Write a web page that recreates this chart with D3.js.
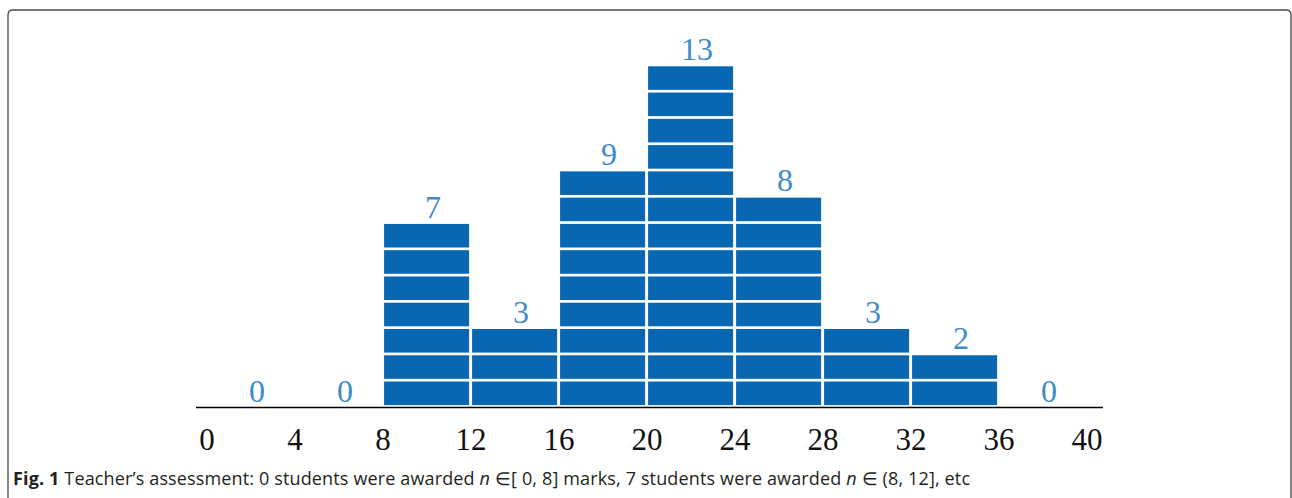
<!DOCTYPE html>
<html><head><meta charset="utf-8">
<script src="https://cdn.jsdelivr.net/npm/d3@7"></script>
<style>html,body{margin:0;padding:0;background:#fff;}svg{display:block;}</style>
</head><body>
<svg id="chart" width="1292" height="498"></svg>
<script>
const binStarts = [0, 4, 8, 12, 16, 20, 24, 28, 32, 36];
const binWidth = 4;
const counts = [0, 0, 7, 3, 9, 13, 8, 3, 2, 0];
const tickValues = [0, 4, 8, 12, 16, 20, 24, 28, 32, 36, 40];

const svg = d3.select("#chart");
const x = d3.scaleLinear().domain([0, 40]).range([206.5, 1086.5]);
const y = d3.scaleLinear().domain([0, 13]).range([406.5, 65]);

// frame
svg.append("path")
  .attr("d", "M8,520 L8,15 Q8,10 13,10 L1286,10 Q1291,10 1291,15 L1291,520")
  .attr("fill", "none").attr("stroke", "#4a4a4a").attr("stroke-width", 1.3);

// blocks
const blocks = [];
binStarts.forEach((s, i) => { for (let k = 0; k < counts[i]; k++) blocks.push({s, k}); });
svg.append("g").selectAll("rect").data(blocks).join("rect")
  .attr("x", d => x(d.s) + 1.6)
  .attr("width", d => x(d.s + binWidth) - x(d.s) - 3)
  .attr("y", d => y(d.k + 1) + 1.3)
  .attr("height", d => y(d.k) - y(d.k + 1) - 2.7)
  .attr("fill", "#0767b3");

// baseline
svg.append("line").attr("x1", 196).attr("x2", 1103).attr("y1", 407.5).attr("y2", 407.5)
  .attr("stroke", "#000").attr("stroke-width", 1.6);

// count labels
svg.append("g").selectAll("text").data(binStarts).join("text")
  .attr("x", (d) => x(d + binWidth / 2) + 6.5)
  .attr("y", (d, i) => y(counts[i]) - 5)
  .attr("text-anchor", "middle")
  .attr("font-family", "'Liberation Serif', serif")
  .attr("font-size", 32)
  .attr("fill", "#3d8bcb")
  .text((d, i) => counts[i]);

// x axis tick labels
const axis = d3.axisBottom(x).tickValues(tickValues).tickSize(0).tickPadding(0);
const ag = svg.append("g").attr("transform", "translate(0,418)").call(axis);
ag.select(".domain").remove();
ag.selectAll("text").attr("font-family", "'Liberation Serif', serif").attr("font-size", 31)
  .attr("font-weight", 300)
  .attr("fill", "#111").attr("dy", null).attr("y", 32);

// caption
const cap = svg.append("text").attr("x", 13).attr("y", 485)
  .attr("font-family", "'Open Sans', sans-serif").attr("font-size", 18).attr("fill", "#231f20")
  .attr("textLength", 957).attr("lengthAdjust", "spacing");
cap.append("tspan").attr("font-weight", "bold").text("Fig. 1");
cap.append("tspan").text(" Teacher\u2019s assessment: 0 students were awarded ");
cap.append("tspan").attr("font-style", "italic").text("n");
cap.append("tspan").text(" \u2208[ 0, 8] marks, 7 students were awarded ");
cap.append("tspan").attr("font-style", "italic").text("n");
cap.append("tspan").text(" \u2208 (8, 12], etc");
</script>
</body></html>
